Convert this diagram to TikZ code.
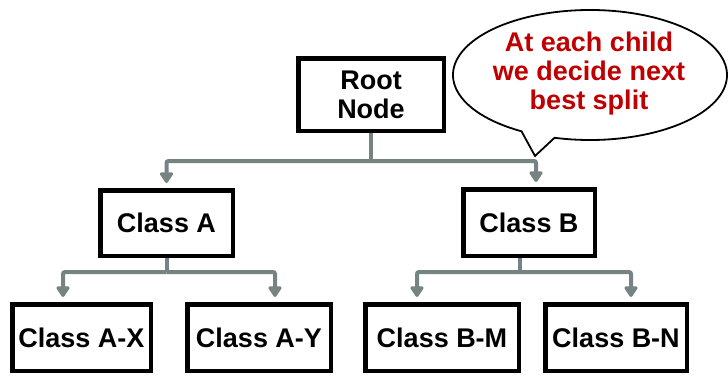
\documentclass[tikz,border=0pt]{standalone}
\usepackage{fontspec}
\setmainfont{Liberation Sans}
\usetikzlibrary{arrows.meta}
\definecolor{conngray}{RGB}{118,131,131}
\definecolor{bubred}{RGB}{192,0,0}
\begin{document}
\begin{tikzpicture}[x=1pt,y=-1pt,
  box/.style={draw=black,line width=4.5pt,fill=white,font=\fontsize{27}{29}\selectfont\bfseries,align=center,inner sep=0pt},
  conn/.style={draw=conngray,line width=4pt,rounded corners=2pt},
  arr/.style={conn,-{Triangle[width=15pt,length=12pt,round]},shorten >=5pt}]
\useasboundingbox (0,0) rectangle (728,375);
% speech bubble
\draw[line width=1.8pt,fill=white] (590,75) ++(120:137 and 65)
  arc[start angle=120, end angle=465, x radius=137, y radius=65] -- (535,156) -- cycle;
\node[font=\fontsize{27}{29}\selectfont\bfseries,text=bubred,align=center,inner sep=0pt] (bubtext) at (589,74) {At each child\\we decide next\\best split};
% nodes
\node[box,minimum width=145.5pt,minimum height=72.5pt] (root) at (371,94.5) {Root\\Node};
\node[box,minimum width=132.5pt,minimum height=65.5pt] (a) at (166.5,223) {Class A};
\node[box,minimum width=131.5pt,minimum height=66.5pt] (b) at (529,222.5) {Class B};
\node[box,minimum width=138.5pt,minimum height=66.5pt] (ax) at (81.5,337.5) {Class A-X};
\node[box,minimum width=143.5pt,minimum height=66.5pt] (ay) at (259,337.5) {Class A-Y};
\node[box,minimum width=153.5pt,minimum height=66.5pt] (bm) at (442,337.5) {Class B-M};
\node[box,minimum width=141.5pt,minimum height=66.5pt] (bn) at (616,337.5) {Class B-N};
% connectors
\coordinate (j1) at (371,161);
\coordinate (j2) at (166.5,272);
\coordinate (j3) at (520,272);
\draw[conn] (root.south) -- (j1);
\draw[arr] (j1) -| (a.north);
\draw[arr] (j1) -| ([xshift=7pt]b.north);
\draw[conn] (a.south) -- (j2);
\draw[arr] (j2) -| ([xshift=-18.5pt]ax.north);
\draw[arr] (j2) -| ([xshift=16pt]ay.north);
\draw[conn] ([xshift=-9pt]b.south) -- (j3);
\draw[arr] (j3) -| ([xshift=-25pt]bm.north);
\draw[arr] (j3) -| ([xshift=15pt]bn.north);
\end{tikzpicture}
\end{document}
